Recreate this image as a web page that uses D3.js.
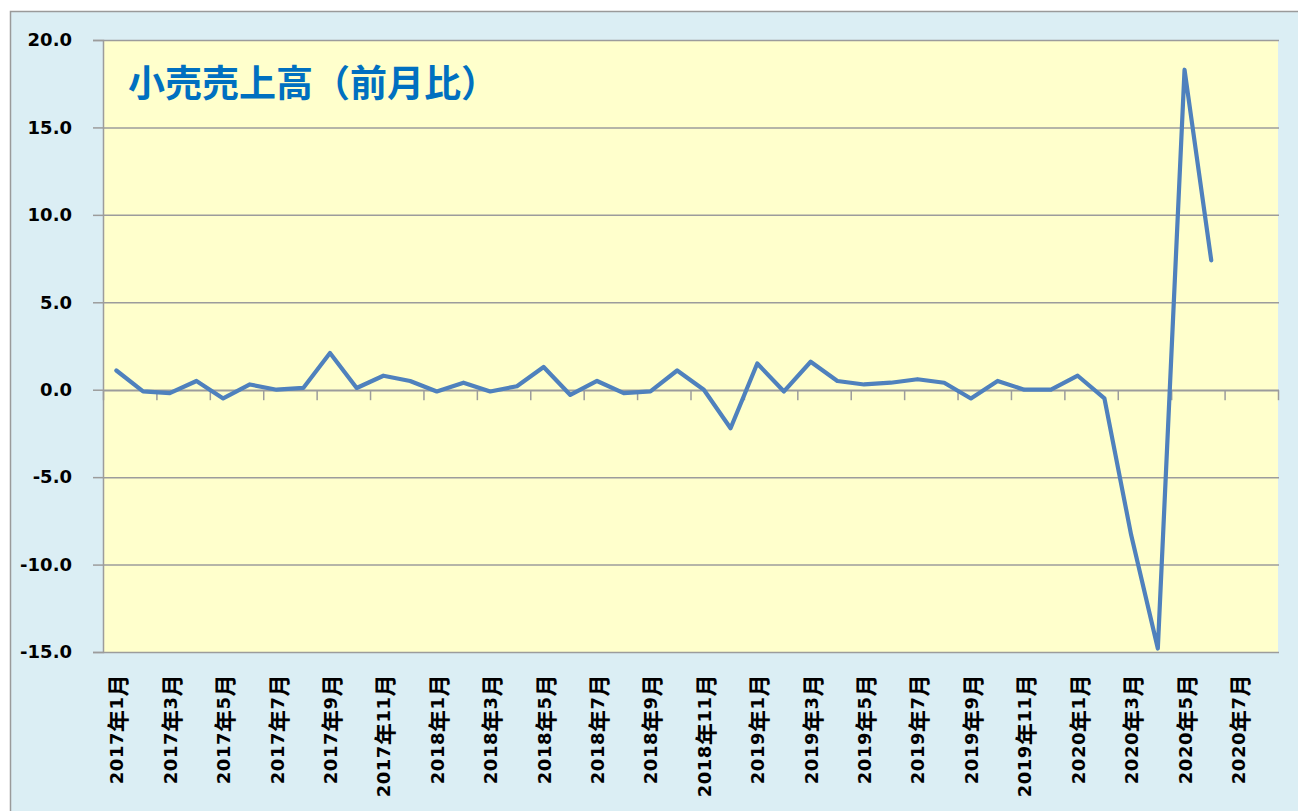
<!DOCTYPE html>
<html>
<head>
<meta charset="utf-8">
<script src="https://cdn.jsdelivr.net/npm/d3@7"></script>
<style>
  body { margin: 0; background: #fff; }
  svg { display: block; }
</style>
</head>
<body>
<div id="chart"></div>
<script>
// 小売売上高（前月比）, 2017年1月 - 2020年8月
let categories = [
  "2017年1月","2017年2月","2017年3月","2017年4月","2017年5月","2017年6月",
  "2017年7月","2017年8月","2017年9月","2017年10月","2017年11月","2017年12月",
  "2018年1月","2018年2月","2018年3月","2018年4月","2018年5月","2018年6月",
  "2018年7月","2018年8月","2018年9月","2018年10月","2018年11月","2018年12月",
  "2019年1月","2019年2月","2019年3月","2019年4月","2019年5月","2019年6月",
  "2019年7月","2019年8月","2019年9月","2019年10月","2019年11月","2019年12月",
  "2020年1月","2020年2月","2020年3月","2020年4月","2020年5月","2020年6月",
  "2020年7月","2020年8月"
];
let values = [
  1.1, -0.1, -0.2, 0.5, -0.5, 0.3, 0.0, 0.1, 2.1, 0.1, 0.8, 0.5,
  -0.1, 0.4, -0.1, 0.2, 1.3, -0.3, 0.5, -0.2, -0.1, 1.1, 0.0, -2.2,
  1.5, -0.1, 1.6, 0.5, 0.3, 0.4, 0.6, 0.4, -0.5, 0.5, 0.0, 0.0,
  0.8, -0.5, -8.3, -14.8, 18.3, 7.4
];
let yTicks = [-15, -10, -5, 0, 5, 10, 15, 20];
let title = "小売売上高（前月比）";

let width = 1298, height = 811,
    margin = ({top: 40, right: 20, bottom: 159, left: 103}),
    plotRight = 1278, plotBottom = 652;

let data = values.map((v, i) => ({cat: categories[i], value: v}));

let x = d3.scaleBand()
    .domain(categories)
    .range([margin.left, plotRight]);
let xIdx = d3.scaleLinear()
    .domain([0, categories.length])
    .range([margin.left, plotRight]);
let y = d3.scaleLinear()
    .domain([-15, 20])
    .range([plotBottom, margin.top]);

const svg = d3.select("#chart").append("svg")
    .attr("width", width)
    .attr("height", height);

// outer chart area
svg.append("rect")
    .attr("x", 10.5).attr("y", 11.5)
    .attr("width", width).attr("height", height)
    .attr("fill", "#dbeef4")
    .attr("stroke", "#9a9a9a").attr("stroke-width", 1.5);

// plot area
svg.append("rect")
    .attr("x", margin.left).attr("y", margin.top)
    .attr("width", plotRight - margin.left)
    .attr("height", plotBottom - margin.top)
    .attr("fill", "#ffffcc");

// grid lines
svg.append("g")
    .selectAll("line")
    .data(yTicks)
    .join("line")
      .attr("x1", margin.left).attr("x2", plotRight + 1)
      .attr("y1", d => y(d) + 0.5).attr("y2", d => y(d) + 0.5)
      .attr("stroke", "#9c9c9c").attr("stroke-width", 1.5);

// y axis (plain hyphen for negatives, as in the original)
svg.append("g")
    .attr("transform", `translate(${margin.left},0)`)
    .call(d3.axisLeft(y)
        .tickValues(yTicks)
        .tickFormat(d => d.toFixed(1))
        .tickSize(10)
        .tickPadding(21))
    .call(g => g.select(".domain").attr("stroke", "#9c9c9c").attr("stroke-width", 1.5))
    .call(g => g.selectAll(".tick line").attr("stroke", "#9c9c9c").attr("stroke-width", 1.5))
    .call(g => g.selectAll(".tick text")
        .attr("fill", "#000")
        .attr("font-family", "'DejaVu Sans', sans-serif")
        .attr("font-weight", "bold")
        .attr("font-size", 18));

// x axis at zero, ticks every two months
svg.append("g")
    .attr("transform", `translate(0,${y(0) + 0.5})`)
    .call(d3.axisBottom(xIdx)
        .tickValues(d3.range(0, categories.length + 1, 2))
        .tickFormat("")
        .tickSize(10)
        .tickSizeOuter(0))
    .call(g => g.select(".domain").attr("stroke", "#9c9c9c").attr("stroke-width", 1.5))
    .call(g => g.selectAll(".tick line").attr("stroke", "#9c9c9c").attr("stroke-width", 1.5));

// category labels (every other month), rotated; kanji a bit larger than digits
let labels = svg.append("g")
    .selectAll("text")
    .data(categories.filter((d, i) => i % 2 === 0))
    .join("text")
      .attr("transform", d => `translate(${x(d) + x.bandwidth() / 2},674) rotate(-90)`)
      .attr("text-anchor", "end")
      .attr("dominant-baseline", "central")
      .attr("font-family", "'DejaVu Sans', 'Noto Sans CJK JP', sans-serif")
      .attr("font-weight", "bold")
      .attr("font-size", 18)
      .attr("letter-spacing", 0.5)
      .attr("fill", "#000");
labels.selectAll("tspan")
    .data(d => d.match(/\d+|[^\d]/g))
    .join("tspan")
      .attr("font-family", s => /\d/.test(s) ? "'DejaVu Sans', sans-serif" : "'Noto Sans CJK JP', sans-serif")
      .attr("font-size", s => /\d/.test(s) ? 18 : 22)
      .text(s => s);

// series line
let line = d3.line()
    .x(d => x(d.cat) + x.bandwidth() / 2)
    .y(d => y(d.value));

svg.append("path")
    .datum(data)
    .attr("d", line)
    .attr("fill", "none")
    .attr("stroke", "#4f81bd")
    .attr("stroke-width", 4.2)
    .attr("stroke-linejoin", "round")
    .attr("stroke-linecap", "round");

// title
svg.append("text")
    .attr("x", 128).attr("y", 97)
    .attr("font-family", "'Noto Sans CJK JP', sans-serif")
    .attr("font-weight", "bold")
    .attr("font-size", 37)
    .attr("fill", "#0070c0")
    .text(title);
</script>
</body>
</html>
